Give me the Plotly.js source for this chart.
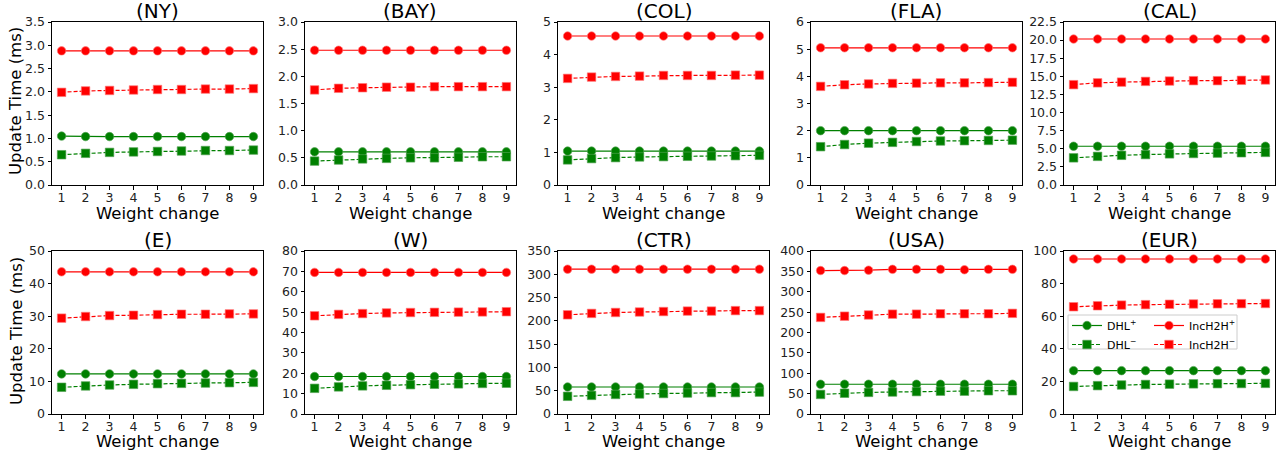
<!DOCTYPE html>
<html>
<head>
<meta charset="utf-8">
<script src="https://cdn.plot.ly/plotly-3.0.1.min.js"></script>
<style>html,body{margin:0;padding:0;background:#fff}#chart{width:1284px;height:459px}</style>
</head>
<body>
<div id="chart"></div>
<script>
// ---- data ----
const weightChange = [1, 2, 3, 4, 5, 6, 7, 8, 9];
const regions = ['NY', 'BAY', 'COL', 'FLA', 'CAL', 'E', 'W', 'CTR', 'USA', 'EUR'];
const seriesNames = ['DHL<sup>+</sup>', 'DHL<sup>\u2212</sup>', 'IncH2H<sup>+</sup>', 'IncH2H<sup>\u2212</sup>'];

const NY_dhlPlus  = [1.05, 1.04, 1.04, 1.04, 1.04, 1.04, 1.04, 1.04, 1.04];
const NY_dhlMinus = [0.65, 0.68, 0.70, 0.71, 0.72, 0.73, 0.74, 0.74, 0.75];
const NY_incPlus  = [2.88, 2.88, 2.88, 2.88, 2.88, 2.88, 2.88, 2.88, 2.88];
const NY_incMinus = [1.99, 2.02, 2.03, 2.04, 2.05, 2.05, 2.06, 2.06, 2.07];

const BAY_dhlPlus  = [0.61, 0.61, 0.61, 0.61, 0.61, 0.61, 0.61, 0.61, 0.61];
const BAY_dhlMinus = [0.44, 0.46, 0.48, 0.49, 0.50, 0.50, 0.51, 0.52, 0.52];
const BAY_incPlus  = [2.48, 2.48, 2.48, 2.48, 2.48, 2.48, 2.48, 2.48, 2.48];
const BAY_incMinus = [1.75, 1.78, 1.79, 1.80, 1.80, 1.81, 1.81, 1.81, 1.81];

const COL_dhlPlus  = [1.04, 1.04, 1.04, 1.04, 1.04, 1.04, 1.04, 1.04, 1.04];
const COL_dhlMinus = [0.77, 0.81, 0.84, 0.86, 0.87, 0.88, 0.89, 0.90, 0.91];
const COL_incPlus  = [4.57, 4.57, 4.57, 4.57, 4.57, 4.57, 4.57, 4.57, 4.57];
const COL_incMinus = [3.27, 3.31, 3.33, 3.34, 3.36, 3.36, 3.36, 3.37, 3.37];

const FLA_dhlPlus  = [2.00, 2.00, 2.00, 2.00, 2.00, 2.00, 2.00, 2.00, 2.00];
const FLA_dhlMinus = [1.41, 1.49, 1.54, 1.57, 1.60, 1.62, 1.63, 1.64, 1.65];
const FLA_incPlus  = [5.05, 5.05, 5.05, 5.05, 5.05, 5.05, 5.05, 5.05, 5.05];
const FLA_incMinus = [3.63, 3.69, 3.72, 3.74, 3.75, 3.76, 3.76, 3.77, 3.78];

const CAL_dhlPlus  = [5.35, 5.35, 5.35, 5.35, 5.35, 5.35, 5.35, 5.35, 5.35];
const CAL_dhlMinus = [3.75, 3.95, 4.10, 4.20, 4.30, 4.35, 4.40, 4.45, 4.50];
const CAL_incPlus  = [20.15, 20.15, 20.15, 20.15, 20.15, 20.15, 20.15, 20.15, 20.15];
const CAL_incMinus = [13.85, 14.10, 14.20, 14.30, 14.35, 14.40, 14.40, 14.45, 14.50];

const E_dhlPlus  = [12.3, 12.3, 12.3, 12.3, 12.3, 12.3, 12.3, 12.3, 12.3];
const E_dhlMinus = [8.2, 8.6, 8.9, 9.1, 9.3, 9.4, 9.5, 9.6, 9.7];
const E_incPlus  = [43.6, 43.6, 43.6, 43.6, 43.6, 43.6, 43.6, 43.6, 43.6];
const E_incMinus = [29.4, 29.9, 30.2, 30.3, 30.5, 30.6, 30.6, 30.7, 30.7];

const W_dhlPlus  = [18.4, 18.4, 18.4, 18.4, 18.4, 18.4, 18.4, 18.4, 18.4];
const W_dhlMinus = [12.6, 13.3, 13.8, 14.1, 14.4, 14.6, 14.8, 15.0, 15.1];
const W_incPlus  = [69.5, 69.5, 69.5, 69.5, 69.5, 69.5, 69.5, 69.5, 69.5];
const W_incMinus = [48.2, 48.9, 49.3, 49.6, 49.8, 49.9, 50.0, 50.1, 50.2];

const CTR_dhlPlus  = [58, 58, 58, 58, 58, 58, 58, 58, 58];
const CTR_dhlMinus = [38, 40, 42, 43, 44, 45, 46, 46, 47];
const CTR_incPlus  = [311, 311, 311, 311, 311, 311, 311, 311, 311];
const CTR_incMinus = [213, 216, 218, 219, 220, 221, 221, 222, 222];

const USA_dhlPlus  = [73, 73, 73, 73, 73, 73, 73, 73, 73];
const USA_dhlMinus = [48, 51, 53, 54, 55, 56, 56, 57, 57];
const USA_incPlus  = [352, 352, 353, 355, 355, 355, 354, 355, 355];
const USA_incMinus = [237, 240, 243, 245, 245, 246, 246, 246, 247];

const EUR_dhlPlus  = [26.6, 26.6, 26.6, 26.6, 26.6, 26.6, 26.6, 26.6, 26.6];
const EUR_dhlMinus = [16.9, 17.4, 17.8, 18.1, 18.3, 18.5, 18.6, 18.7, 18.8];
const EUR_incPlus  = [95.1, 95.1, 95.1, 95.1, 95.1, 95.1, 95.1, 95.1, 95.1];
const EUR_incMinus = [65.8, 66.4, 66.8, 67.1, 67.3, 67.5, 67.6, 67.7, 67.8];

// y axis tick settings (tick labels)
const yMax  = [3.5, 3.0, 5, 6, 22.5, 50, 80, 350, 400, 100];
const yStep = [0.5, 0.5, 1, 1, 2.5, 10, 10, 50, 50, 20];
const yFmt  = ['.1f', '.1f', 'd', 'd', '.1f', 'd', 'd', 'd', 'd', 'd'];

const regionData = [
  [NY_dhlPlus, NY_dhlMinus, NY_incPlus, NY_incMinus],
  [BAY_dhlPlus, BAY_dhlMinus, BAY_incPlus, BAY_incMinus],
  [COL_dhlPlus, COL_dhlMinus, COL_incPlus, COL_incMinus],
  [FLA_dhlPlus, FLA_dhlMinus, FLA_incPlus, FLA_incMinus],
  [CAL_dhlPlus, CAL_dhlMinus, CAL_incPlus, CAL_incMinus],
  [E_dhlPlus, E_dhlMinus, E_incPlus, E_incMinus],
  [W_dhlPlus, W_dhlMinus, W_incPlus, W_incMinus],
  [CTR_dhlPlus, CTR_dhlMinus, CTR_incPlus, CTR_incMinus],
  [USA_dhlPlus, USA_dhlMinus, USA_incPlus, USA_incMinus],
  [EUR_dhlPlus, EUR_dhlMinus, EUR_incPlus, EUR_incMinus]
];

// ---- styling / layout ----
const W = 1284, H = 459;
const FONT = 'DejaVu Sans, Liberation Sans, sans-serif';
const colPx = [[52, 263], [305, 516], [558, 769], [811, 1022], [1064, 1275]];
const rowPx = [[22, 185], [251, 414]];
const styles = [
  {color: '#008000', symbol: 'circle', dash: 'solid', legend: 'legend'},
  {color: '#008000', symbol: 'square', dash: '4px,2px', legend: 'legend'},
  {color: '#ff0000', symbol: 'circle', dash: 'solid', legend: 'legend2'},
  {color: '#ff0000', symbol: 'square', dash: '4px,2px', legend: 'legend2'}
];

const traces = [];
const layout = {
  width: W, height: H,
  margin: {l: 0, r: 0, t: 0, b: 0},
  paper_bgcolor: '#fff', plot_bgcolor: '#fff',
  font: {family: FONT, color: '#000', size: 12.5},
  annotations: [], shapes: []
};

regions.forEach((name, i) => {
  const r = Math.floor(i / 5), c = i % 5;
  const idx = i === 0 ? '' : String(i + 1);
  const xd = [colPx[c][0] / W, colPx[c][1] / W];
  const yd = [(H - rowPx[r][1]) / H, (H - rowPx[r][0]) / H];
  const axCommon = {
    showline: true, mirror: true, linecolor: '#000', linewidth: 1,
    ticks: 'outside', ticklen: 3.5, tickwidth: 1, tickcolor: '#000',
    showgrid: false, zeroline: false,
    tickfont: {family: FONT, size: 12.5, color: '#222'}
  };
  layout['xaxis' + idx] = Object.assign({}, axCommon, {
    domain: xd, anchor: 'y' + idx, range: [0.6, 9.4],
    tickmode: 'array', tickvals: weightChange, ticktext: weightChange.map(String),
    ticklabelstandoff: -3
  });
  layout['yaxis' + idx] = Object.assign({}, axCommon, {
    domain: yd, anchor: 'x' + idx, range: [0, yMax[i]],
    tick0: 0, dtick: yStep[i], tickformat: yFmt[i]
  });
  const cx = (xd[0] + xd[1]) / 2;
  layout.annotations.push({
    text: '(' + name + ')', xref: 'paper', yref: 'paper', x: cx,
    y: r === 0 ? (H - 11) / H : (H - 240) / H, xanchor: 'center', yanchor: 'middle',
    showarrow: false, font: {family: FONT, size: 20, color: '#000'}
  });
  layout.annotations.push({
    text: 'Weight change', xref: 'paper', yref: 'paper', x: cx,
    y: r === 0 ? (H - 213) / H : (H - 441) / H, xanchor: 'center', yanchor: 'middle',
    showarrow: false, font: {family: FONT, size: 16.5, color: '#000'}
  });
  if (c === 0) {
    layout.annotations.push({
      text: 'Update Time (ms)', xref: 'paper', yref: 'paper', x: 16 / W,
      y: r === 0 ? (H - 101) / H : (H - 331) / H, xanchor: 'center', yanchor: 'middle',
      textangle: -90, showarrow: false, font: {family: FONT, size: 16.5, color: '#000'}
    });
  }
  regionData[i].forEach((vals, s) => {
    const st = styles[s];
    traces.push({
      type: 'scatter', mode: 'lines+markers',
      x: weightChange, y: vals,
      xaxis: 'x' + idx, yaxis: 'y' + idx,
      name: seriesNames[s],
      showlegend: i === 9, legend: st.legend,
      line: {color: st.color, width: 1.2, dash: st.dash},
      marker: {color: st.color, symbol: st.symbol, size: 8.5,
               line: {color: st.color === '#ff0000' ? 'rgba(255,120,120,0.8)' : 'rgba(80,160,80,0.8)', width: 0.8}}
    });
  });
});

// legend frame & two legend columns
layout.shapes.push({
  type: 'rect', xref: 'paper', yref: 'paper', layer: 'above',
  x0: 1068 / W, x1: 1237 / W, y0: (H - 349) / H, y1: (H - 315) / H,
  line: {color: '#cccccc', width: 1}, fillcolor: 'rgba(255,255,255,0.85)'
});
const legCommon = {
  bgcolor: 'rgba(0,0,0,0)', borderwidth: 0, yanchor: 'top', xanchor: 'left',
  font: {family: FONT, size: 11, color: '#000'}, tracegroupgap: 0, itemwidth: 30
};
layout.legend = Object.assign({}, legCommon, {x: 1067 / W, y: (H - 311) / H});
layout.legend2 = Object.assign({}, legCommon, {x: 1149 / W, y: (H - 311) / H});

Plotly.newPlot('chart', traces, layout, {displayModeBar: false, staticPlot: true});
</script>
</body>
</html>
